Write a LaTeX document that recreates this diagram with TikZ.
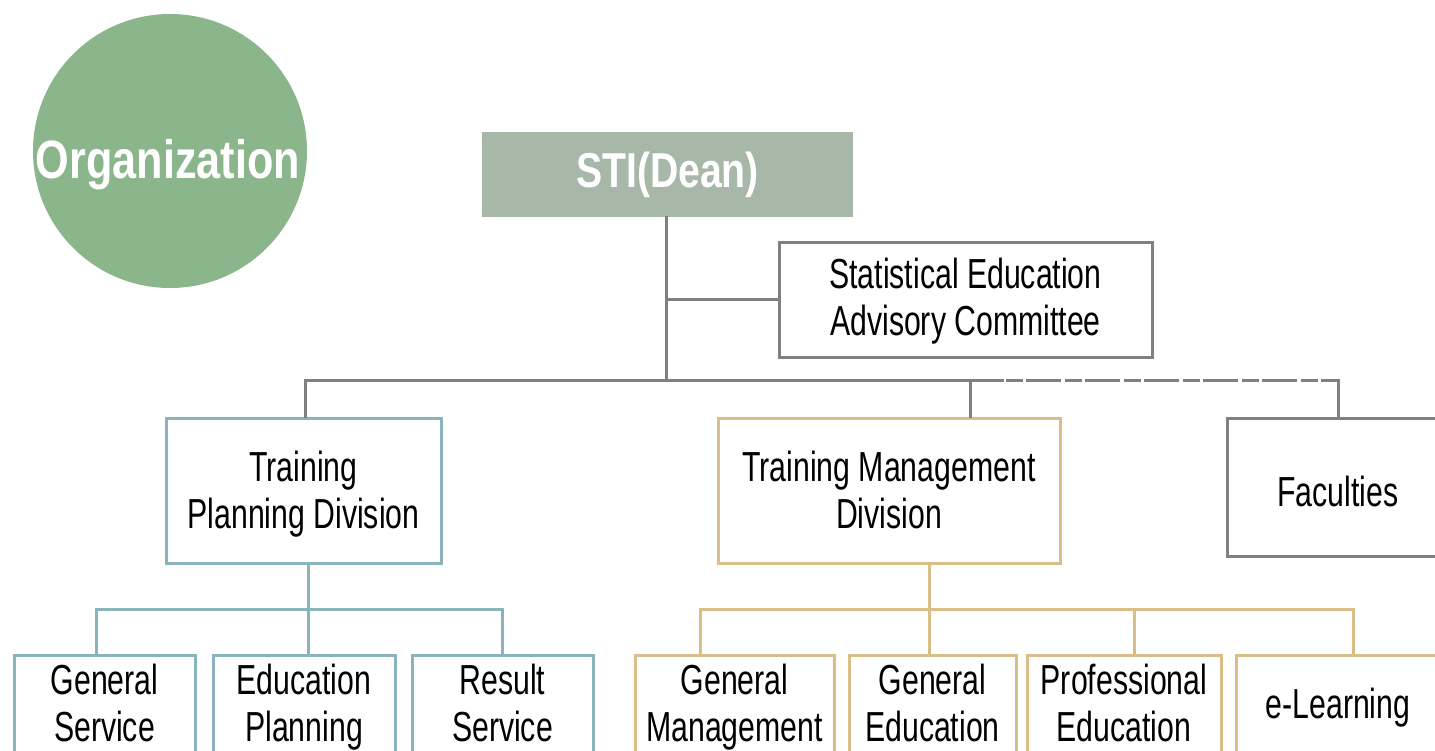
\documentclass[tikz,border=0pt]{standalone}
\usepackage{fontspec}
\setmainfont{Liberation Sans}[FakeStretch=0.72]
\newfontfamily\headfont{Liberation Sans}[FakeStretch=0.8]
\definecolor{linegray}{HTML}{808080}
\definecolor{teal}{HTML}{8AB4BB}
\definecolor{tan}{HTML}{D9BE88}
\definecolor{orggreen}{HTML}{8BB58B}
\definecolor{deanfill}{HTML}{A7B7A8}
\begin{document}
\begin{tikzpicture}[x=1pt,y=-1pt,
  box/.style={draw, line width=3pt, fill=white, inner sep=0pt, align=center,
    font=\fontsize{42}{47}\selectfont, text=black, text height=78pt, text depth=2pt},
  graybox/.style={box, draw=linegray},
  tealbox/.style={box, draw=teal},
  tanbox/.style={box, draw=tan},
  conn/.style={line width=3pt, line cap=rect},
  grayconn/.style={conn, draw=linegray},
  tealconn/.style={conn, draw=teal},
  tanconn/.style={conn, draw=tan},
  dashconn/.style={line width=3pt, draw=linegray, dash pattern=on 17pt off 3.5pt on 35pt off 3.5pt, dash phase=55.5pt}
]
\useasboundingbox (0,0) rectangle (1435,750);
\clip (0,0) rectangle (1435,750);

% title circle
\node[circle, fill=orggreen, minimum size=274pt, inner sep=0pt] (org) at (170,151) {};
\node[text=white, inner sep=0pt, font=\headfont\bfseries\fontsize{54}{60}\selectfont] (orgtext) at (168,165) {Organization};

% top nodes
\node[fill=deanfill, minimum width=371pt, minimum height=85pt, inner sep=0pt,
  text=white, font=\headfont\bfseries\fontsize{49}{55}\selectfont] (sti) at (667.5,174.5) {\raisebox{-2pt}{STI(Dean)}};
\node[graybox, minimum width=373pt, minimum height=115pt, text depth=6pt] (adv) at (965.5,299.5)
  {Statistical Education\\Advisory Committee};

% divisions
\node[tealbox, minimum width=275pt, minimum height=145pt] (tpd) at (303.5,490.5)
  {Training\\Planning Division};
\node[tanbox, minimum width=342pt, minimum height=145pt] (tmd) at (889,490.5)
  {Training Management\\Division};
\node[graybox, minimum width=222pt, minimum height=138pt, text height=40pt] (fac) at (1338,487)
  {Faculties};

% teams
\node[tealbox, minimum width=181pt, minimum height=97pt] (gs) at (104.5,703.5) {General\\Service};
\node[tealbox, minimum width=182pt, minimum height=97pt] (ep) at (304,703.5) {Education\\Planning};
\node[tealbox, minimum width=181pt, minimum height=97pt] (rs) at (502.5,703.5) {Result\\Service};
\node[tanbox, minimum width=199pt, minimum height=97pt] (gm) at (734.5,703.5) {General\\Management};
\node[tanbox, minimum width=167pt, minimum height=97pt] (ge) at (932.5,703.5) {General\\Education};
\node[tanbox, minimum width=194pt, minimum height=97pt] (pe) at (1124,703.5) {Professional\\Education};
\node[tanbox, minimum width=204pt, minimum height=97pt, text height=31pt] (el) at (1338,703.5) {e-Learning};

% bus coordinates
\coordinate (dean) at (666,380);
\coordinate (busL) at (305,380);
\coordinate (busM) at (970,380);
\coordinate (busD) at (1002,380);
\coordinate (busR) at (1338,380);
\coordinate (tdrop) at (308,609);
\coordinate (tL) at (96,609);
\coordinate (tR) at (502,609);
\coordinate (mdrop) at (929,609);
\coordinate (mL) at (700,609);
\coordinate (mP) at (1134,609);
\coordinate (mR) at (1353,609);

% gray connectors
\draw[grayconn] (sti.south -| dean) -- (dean);
\draw[grayconn] (adv.west -| dean) -- (adv.west);
\draw[grayconn] (busL |- tpd.north) -- (busL) -- (busD);
\draw[grayconn] (busM |- tmd.north) -- (busM);
\draw[dashconn] (busD) -- (busR);
\draw[grayconn] (busR) -- (fac.north);

% teal connectors
\draw[tealconn] (tpd.south -| tdrop) -- (tdrop);
\draw[tealconn] (tL |- gs.north) -- (tL) -- (tR) -- (tR |- rs.north);
\draw[tealconn] (tdrop) -- (tdrop |- ep.north);

% tan connectors
\draw[tanconn] (tmd.south -| mdrop) -- (mdrop) -- (mdrop |- ge.north);
\draw[tanconn] (mL |- gm.north) -- (mL) -- (mR) -- (mR |- el.north);
\draw[tanconn] (mP) -- (mP |- pe.north);
\end{tikzpicture}
\end{document}
